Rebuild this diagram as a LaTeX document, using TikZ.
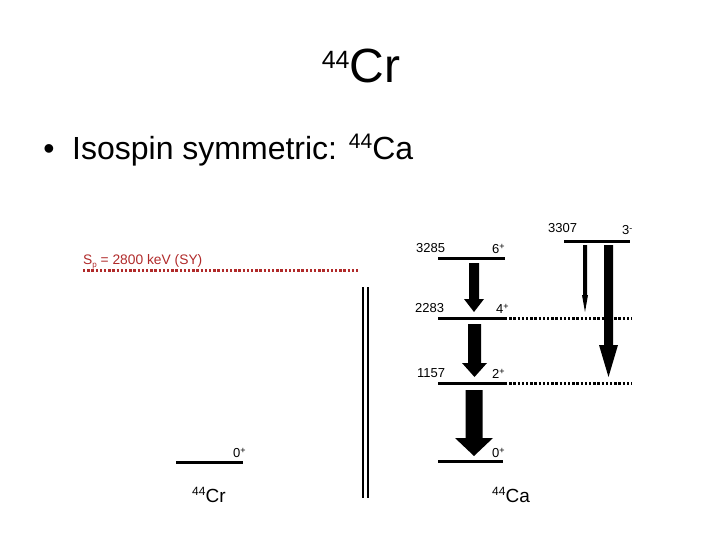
\documentclass[tikz,border=0pt]{standalone}
\usepackage{fontspec}
\setmainfont{Liberation Sans}
\definecolor{spred}{HTML}{B02A2A}
\newcommand{\gtrans}[7]{% name, x, top, bottom, shaft width, head width, head length
  \fill[black] ({#2-#5/2},#3) -- ({#2+#5/2},#3) -- ({#2+#5/2},{#4-#7}) -- ({#2+#6/2},{#4-#7})
    -- (#2,#4) -- ({#2-#6/2},{#4-#7}) -- ({#2-#5/2},{#4-#7}) -- cycle;
  \coordinate (#1) at (#2,#4);}
\begin{document}
\begin{tikzpicture}[x=1pt,y=-1pt,
  lvl/.style={line width=3pt},
  dotlvl/.style={line width=3pt,dash pattern=on 2.4pt off 1.8pt},
  small/.style={font=\fontsize{13}{13}\selectfont,inner sep=0pt,anchor=base west},
  nuc/.style={font=\fontsize{19}{19}\selectfont,inner sep=0pt,anchor=base west}]
\useasboundingbox (0,0) rectangle (720,540);
% title
\node[inner sep=0pt,anchor=base,font=\fontsize{48}{48}\selectfont] (title) at (361,83)
  {\raisebox{14pt}{\fontsize{25}{25}\selectfont 44}Cr};
% bullet
\node[inner sep=0pt,anchor=base,font=\fontsize{32}{32}\selectfont] (bul) at (49,160) {•};
\node[inner sep=0pt,anchor=base west,font=\fontsize{32}{32}\selectfont] (iso) at (72,160)
  {Isospin symmetric: \raisebox{11pt}{\fontsize{21}{21}\selectfont 44}Ca};
% Sp line
\node[inner sep=0pt,anchor=base west,font=\fontsize{13.8}{14}\selectfont,text=spred] (sp) at (83,264)
  {S\raisebox{-3pt}{\fontsize{8}{8}\selectfont p} = 2800 keV (SY)};
\draw[spred,line width=3pt,dash pattern=on 2.4pt off 1.8pt] (83,270) coordinate (spa) -- (360,270) coordinate (spb);
% double line
\draw[line width=2pt] (363,287) coordinate (d1) -- (363,498) coordinate (d2);
\draw[line width=2pt] (368,287) coordinate (d3) -- (368,498) coordinate (d4);
% 44Cr level
\draw[lvl] (176,462) coordinate (cra) -- (243,462) coordinate (crb);
\node[small] (cr0) at (233,457) {0\raisebox{4pt}{\fontsize{9}{9}\selectfont +}};
\node[nuc] (crlab) at (192,502) {\raisebox{7pt}{\fontsize{12}{12}\selectfont 44}Cr};
% 44Ca levels
\draw[lvl] (438,258) coordinate (l6a) -- (505,258) coordinate (l6b);
\draw[lvl] (564,241) coordinate (l3a) -- (630,241) coordinate (l3b);
\draw[lvl] (438,318) coordinate (l4a) -- (505,318) coordinate (l4b);
\draw[dotlvl] (l4b) -- (632,318) coordinate (l4c);
\draw[lvl] (438,383) coordinate (l2a) -- (505,383) coordinate (l2b);
\draw[dotlvl] (l2b) -- (632,383) coordinate (l2c);
\draw[lvl] (438,461) coordinate (l0a) -- (503,461) coordinate (l0b);
% labels
\node[small] (e3285) at (416,252) {3285};
\node[small] (s6) at (492,253) {6\raisebox{4pt}{\fontsize{9}{9}\selectfont +}};
\node[small] (e3307) at (548,233) {3307};
\node[small] (s3) at (622,235) {3\raisebox{4pt}{\fontsize{9}{9}\selectfont -}};
\node[small] (e2283) at (415,312) {2283};
\node[small] (s4) at (496,313) {4\raisebox{4pt}{\fontsize{9}{9}\selectfont +}};
\node[small] (e1157) at (417,377) {1157};
\node[small] (s2) at (492,378) {2\raisebox{4pt}{\fontsize{9}{9}\selectfont +}};
\node[small] (s0) at (492,457) {0\raisebox{4pt}{\fontsize{9}{9}\selectfont +}};
\node[nuc] (calab) at (492,502) {\raisebox{7pt}{\fontsize{12}{12}\selectfont 44}Ca};
% gamma transitions
\gtrans{g64}{474}{263}{312}{10}{20}{13}
\gtrans{g42}{474.5}{324}{377}{13}{25}{14}
\gtrans{g20}{474}{390}{456}{17}{38}{18}
\gtrans{g34}{585}{245}{312}{4}{6}{17}
\gtrans{g32}{608.5}{245}{377}{9}{19}{32}
\end{tikzpicture}
\end{document}
